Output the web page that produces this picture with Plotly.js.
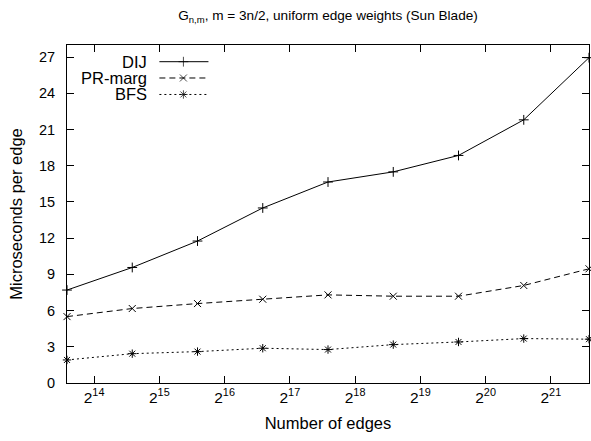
<!DOCTYPE html>
<html>
<head>
<meta charset="utf-8">
<script src="https://cdn.plot.ly/plotly-3.0.1.min.js"></script>
<style>html,body{margin:0;padding:0;background:#fff;}#chart{width:591px;height:441px;}</style>
</head>
<body>
<div id="chart"></div>
<script>
// Data
const edges = [12288, 24576, 49152, 98304, 196608, 393216, 786432, 1572864, 3145728];
const dij = [7.7, 9.57, 11.76, 14.5, 16.65, 17.49, 18.85, 21.8, 26.95];
const prMarg = [5.5, 6.17, 6.58, 6.94, 7.3, 7.19, 7.19, 8.08, 9.46];
const bfs = [1.91, 2.43, 2.6, 2.88, 2.77, 3.18, 3.4, 3.68, 3.63];
const seriesNames = ['DIJ', 'PR-marg', 'BFS'];
const xTickVals = [16384, 32768, 65536, 131072, 262144, 524288, 1048576, 2097152];
const xTickText = ['2<sup>14</sup>', '2<sup>15</sup>', '2<sup>16</sup>', '2<sup>17</sup>', '2<sup>18</sup>', '2<sup>19</sup>', '2<sup>20</sup>', '2<sup>21</sup>'];
const yTickVals = [0, 3, 6, 9, 12, 15, 18, 21, 24, 27];

const FAM = 'Liberation Sans, Arial, sans-serif';
const styles = [
  {dash: 'solid', symbol: 'cross-thin-open'},
  {dash: '6px,4px', symbol: 'x-thin-open'},
  {dash: '2px,3px', symbol: 'asterisk-open'}
];
const ys = [dij, prMarg, bfs];

const traces = [];
ys.forEach((y, i) => {
  traces.push({
    x: edges, y: y, type: 'scatter', mode: 'lines+markers', name: seriesNames[i],
    line: {color: '#000', width: 1, dash: styles[i].dash},
    marker: {symbol: styles[i].symbol, size: 7, color: '#000', line: {color: '#000', width: 1}},
    showlegend: false, cliponaxis: false
  });
});

// custom gnuplot-style legend (text left of sample)
const legY = [0.9506, 0.9024, 0.8536];
const annotations = [];
seriesNames.forEach((n, i) => {
  traces.push({
    x: [0.177, 0.223, 0.271], y: [legY[i], legY[i], legY[i]],
    xaxis: 'x2', yaxis: 'y2', type: 'scatter', mode: 'lines+markers',
    line: {color: '#000', width: 1, dash: styles[i].dash},
    marker: {symbol: styles[i].symbol, size: [0, 7, 0], color: '#000', line: {color: '#000', width: 1}},
    showlegend: false, hoverinfo: 'skip'
  });
  annotations.push({
    text: n, xref: 'paper', yref: 'paper', x: 0.1565, y: legY[i],
    xanchor: 'right', yanchor: 'middle', showarrow: false,
    font: {family: FAM, size: 16.5, color: '#000'}
  });
});

const layout = {
  width: 591, height: 441,
  margin: {l: 67, r: 2, t: 45, b: 58},
  paper_bgcolor: '#fff', plot_bgcolor: '#fff',
  font: {family: FAM, size: 14, color: '#000'},
  showlegend: false,
  title: {
    text: 'G<sub>n,m</sub>, m = 3n/2, uniform edge weights (Sun Blade)',
    font: {family: FAM, size: 13.6, color: '#000'},
    x: 0.5, xref: 'paper', y: 0.966, yref: 'container', yanchor: 'middle'
  },
  xaxis: {
    type: 'log',
    range: [Math.log10(12288), Math.log10(3145728)],
    tickvals: xTickVals, ticktext: xTickText,
    ticks: 'inside', ticklen: 7, tickcolor: '#000', tickwidth: 1,
    showline: true, linecolor: '#000', linewidth: 1, mirror: 'ticks',
    showgrid: false, zeroline: false,
    tickfont: {family: FAM, size: 15.5, color: '#000'},
    title: {text: 'Number of edges', font: {family: FAM, size: 16.5, color: '#000'}, standoff: 12}
  },
  yaxis: {
    range: [0, 28],
    tickvals: yTickVals,
    ticks: 'inside', ticklen: 7, tickcolor: '#000', tickwidth: 1,
    showline: true, linecolor: '#000', linewidth: 1, mirror: 'ticks',
    showgrid: false, zeroline: false,
    tickfont: {family: FAM, size: 14.5, color: '#000'}, ticklabelstandoff: 8,
    title: {text: 'Microseconds per edge', font: {family: FAM, size: 16.5, color: '#000'}, standoff: 12}
  },
  xaxis2: {overlaying: 'x', range: [0, 1], visible: false, fixedrange: true},
  yaxis2: {overlaying: 'y', range: [0, 1], visible: false, fixedrange: true},
  annotations: annotations
};

Plotly.newPlot('chart', traces, layout, {displayModeBar: false, staticPlot: true});
</script>
</body>
</html>
